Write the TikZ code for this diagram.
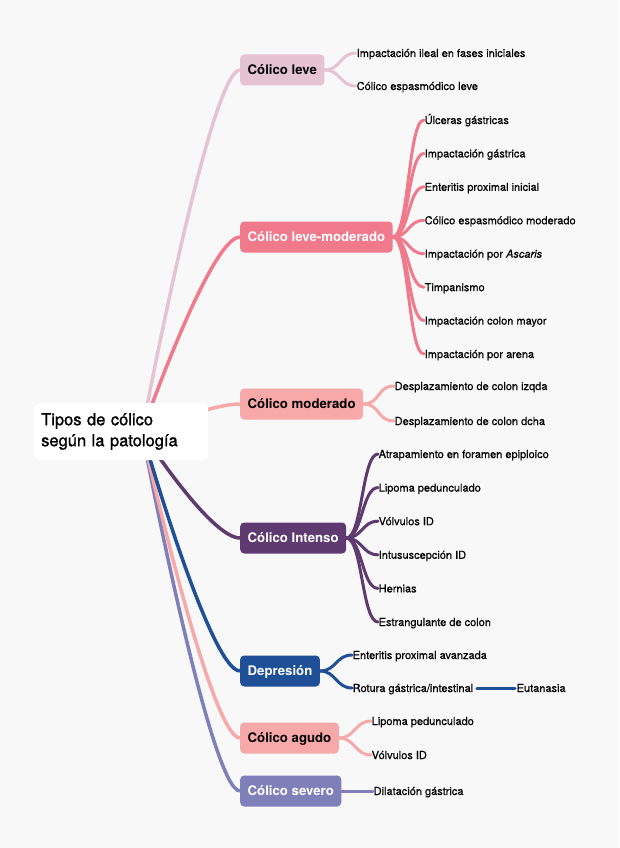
\documentclass[tikz,border=0pt]{standalone}
\usepackage{fontspec}
\setmainfont{TeX Gyre Heros}
\newfontfamily\medio[FakeBold=1.2]{TeX Gyre Heros}
\newfontfamily\hojafont[FakeBold=0.5]{TeX Gyre Heros}
\usetikzlibrary{calc,backgrounds}
\definecolor{fondo}{HTML}{F8F8F8}
\definecolor{cLeve}{HTML}{E6C3D3}
\definecolor{cLevemod}{HTML}{F07A8C}
\definecolor{cMod}{HTML}{F7A8A8}
\definecolor{cInt}{HTML}{5E3A70}
\definecolor{cDep}{HTML}{1E4F97}
\definecolor{cSev}{HTML}{7F80B9}
\begin{document}
\begin{tikzpicture}[x=1pt,y=-1pt, line cap=round, line join=round]
	\tikzset{cat/.style={rounded corners=4pt, minimum height=31pt, inner xsep=7.5pt, anchor=west, text height=9.5pt, text depth=0pt, font=\bfseries\fontsize{13.2}{15}\selectfont},
		hoja/.style={anchor=west, inner xsep=0.5pt, inner ysep=1pt, text height=8pt, text depth=0pt, font=\hojafont\fontsize{11}{13}\selectfont},
		rama/.style={draw=#1, line width=3.5pt},
		enlace/.style={draw=#1, line width=3pt}}
	\useasboundingbox (0,0) rectangle (619,848);
	\begin{scope}[on background layer]
		\fill[fondo] (0,0) rectangle (619,848);
	\end{scope}
	% raiz
	\node[fill=white, rounded corners=6pt, anchor=north west, minimum width=174pt, minimum height=57pt, inner xsep=7pt, text width=160pt, text height=12pt, text depth=25pt, align=left, font=\medio\fontsize{16.5}{21}\selectfont] (raiz) at (34,403) {Tipos de cólico\\según la patología};
	\coordinate (eje) at (142,432);
	% categorias
	\node[cat, fill=cLeve] (leve) at (240,70) {Cólico leve};
	\node[cat, fill=cLevemod, text=white] (levemod) at (240,237) {Cólico leve-moderado};
	\node[cat, fill=cMod] (moderado) at (240,404) {Cólico moderado};
	\node[cat, fill=cInt, text=white] (intenso) at (240,538) {Cólico Intenso};
	\node[cat, fill=cDep, text=white] (depresion) at (240,671) {Depresión};
	\node[cat, fill=cMod] (agudo) at (240,738) {Cólico agudo};
	\node[cat, fill=cSev, text=white] (severo) at (240,791) {Cólico severo};
	% hojas
	\foreach \t [count=\i] in {Impactación ileal en fases iniciales, Cólico espasmódico leve}
	\node[hoja] (lv\i) at (356,{53+33*(\i-1)}) {\t};
	\foreach \t [count=\i] in {Úlceras gástricas, Impactación gástrica, Enteritis proximal inicial, Cólico espasmódico moderado, Impactación por \textit{Ascaris}, Timpanismo, Impactación colon mayor, Impactación por arena}
	\node[hoja] (lm\i) at (424,{120+33.43*(\i-1)}) {\t};
	\foreach \t [count=\i] in {Desplazamiento de colon izqda, Desplazamiento de colon dcha}
	\node[hoja] (md\i) at (394,{386+35*(\i-1)}) {\t};
	\foreach \t [count=\i] in {Atrapamiento en foramen epiploico, Lipoma pedunculado, Vólvulos ID, Intususcepción ID, Hernias, Estrangulante de colon}
	\node[hoja] (in\i) at (378,{454+33.6*(\i-1)}) {\t};
	\foreach \t [count=\i] in {Enteritis proximal avanzada, Rotura gástrica/intestinal}
	\node[hoja] (dp\i) at (352,{655+33*(\i-1)}) {\t};
	\node[hoja] (eut) at (516,688) {Eutanasia};
	\foreach \t [count=\i] in {Lipoma pedunculado, Vólvulos ID}
	\node[hoja] (ag\i) at (371,{721+34*(\i-1)}) {\t};
	\node[hoja] (sv1) at (373,791) {Dilatación gástrica};
	\begin{scope}[on background layer]
		% ramas desde la raiz
		\foreach \n/\c in {leve/cLeve, levemod/cLevemod, moderado/cMod, severo/cSev, agudo/cMod, depresion/cDep, intenso/cInt}
		\draw[rama=\c] (eje) .. controls (eje) and ($(\n.west)+(-30,0)$) .. (\n.west);
	\end{scope}
	% enlaces a las hojas
	\foreach \i in {1,2}
	\draw[enlace=cLeve] (leve.east) .. controls +(16,0) and +(-16,0) .. (lv\i.west);
	\foreach \i in {1,...,8}
	\draw[enlace=cLevemod] (levemod.east) .. controls +(16,0) and +(-16,0) .. (lm\i.west);
	\foreach \i in {1,2}
	\draw[enlace=cMod] (moderado.east) .. controls +(17,0) and +(-17,0) .. (md\i.west);
	\foreach \i in {1,...,6}
	\draw[enlace=cInt] (intenso.east) .. controls +(16,0) and +(-16,0) .. (in\i.west);
	\foreach \i in {1,2}
	\draw[enlace=cDep] (depresion.east) .. controls +(16,0) and +(-16,0) .. (dp\i.west);
	\draw[enlace=cDep, shorten <=3pt, shorten >=1pt] (dp2.east) -- (eut.west);
	\foreach \i in {1,2}
	\draw[enlace=cMod] (agudo.east) .. controls +(16,0) and +(-16,0) .. (ag\i.west);
	\draw[enlace=cSev] (severo.east) -- (sv1.west);
\end{tikzpicture}
\end{document}
